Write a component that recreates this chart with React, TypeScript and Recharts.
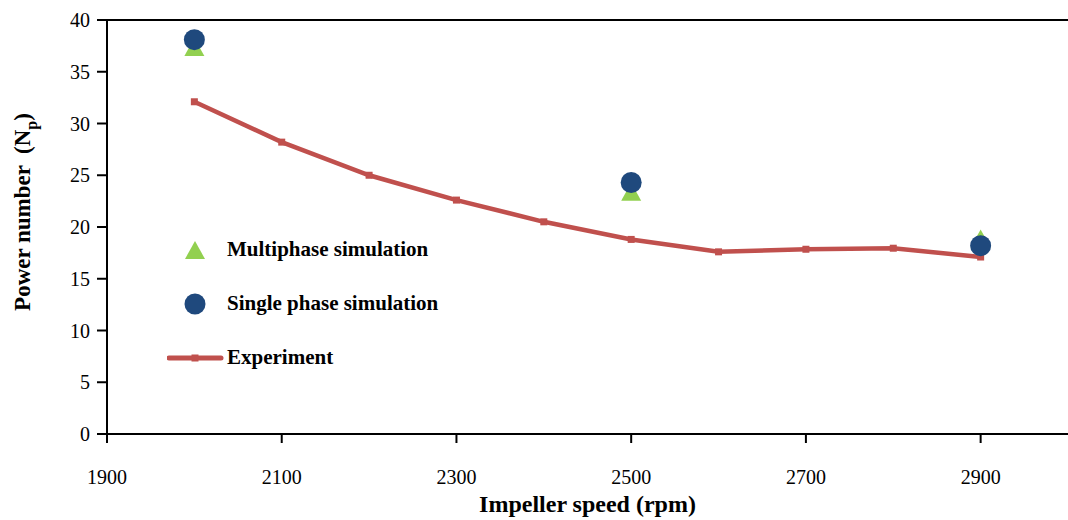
import React from 'react';
import { ComposedChart, Line, Scatter, XAxis, YAxis, ReferenceLine } from 'recharts';

const speeds = [2000, 2100, 2200, 2300, 2400, 2500, 2600, 2700, 2800, 2900];
const experiment = [32.1, 28.2, 25.0, 22.6, 20.5, 18.8, 17.6, 17.85, 17.95, 17.1];
const simSpeeds = [2000, 2500, 2900];
const multiphase = [37.4, 23.4, 18.9];
const singlePhase = [38.1, 24.3, 18.2];
const xTicks = [1900, 2100, 2300, 2500, 2700, 2900];
const yTicks = [0, 5, 10, 15, 20, 25, 30, 35, 40];
const legendLabels = ['Multiphase simulation', 'Single phase simulation', 'Experiment'];

const expData = speeds.map((x, i) => ({ x, y: experiment[i] }));
const multiData = simSpeeds.map((x, i) => ({ x, y: multiphase[i] }));
const singleData = simSpeeds.map((x, i) => ({ x, y: singlePhase[i] }));

const FONT = '"Liberation Serif", "Times New Roman", serif';
const RED = '#C0504D';
const GREEN = '#92D050';
const BLUE = '#1F497D';

const Triangle = (props: any) => {
  const { cx, cy } = props;
  if (cx == null || cy == null) return null;
  return <polygon points={`${cx},${cy - 9} ${cx + 10},${cy + 9} ${cx - 10},${cy + 9}`} fill={GREEN} />;
};
const Circle = (props: any) => {
  const { cx, cy } = props;
  if (cx == null || cy == null) return null;
  return <circle cx={cx} cy={cy} r={10.5} fill={BLUE} />;
};
const SquareDot = (props: any) => {
  const { cx, cy } = props;
  if (cx == null || cy == null) return null;
  return <rect x={cx - 3.5} y={cy - 3.5} width={7} height={7} fill={RED} />;
};

const LegendOverlay = () => {
  const textStyle: React.CSSProperties = {
    fontFamily: FONT,
    fontWeight: 'bold',
    fontSize: 21,
    lineHeight: '24px',
    color: '#000',
    whiteSpace: 'nowrap',
    position: 'absolute',
    left: 60,
  };
  return (
    <div style={{ position: 'absolute', left: 167, top: 223, width: 320, height: 160 }}>
      <svg width={70} height={160} style={{ position: 'absolute', left: 0, top: 0 }}>
        <polygon points="28,18 38,36 18,36" fill={GREEN} />
        <circle cx={28} cy={81} r={10.5} fill={BLUE} />
        <line x1={2} y1={135} x2={54} y2={135} stroke={RED} strokeWidth={5} strokeLinecap="round" />
        <rect x={24.5} y={131.5} width={7} height={7} fill={RED} />
      </svg>
      <div style={{ ...textStyle, top: 14 }}>{legendLabels[0]}</div>
      <div style={{ ...textStyle, top: 68 }}>{legendLabels[1]}</div>
      <div style={{ ...textStyle, top: 122 }}>{legendLabels[2]}</div>
    </div>
  );
};

const YLabel = (props: any) => {
  const vb = props.viewBox || { y: 20, height: 414 };
  const cy = vb.y + vb.height / 2 - 15;
  return (
    <text
      transform={`translate(30, ${cy}) rotate(-90)`}
      textAnchor="middle"
      fontFamily={FONT}
      fontWeight="bold"
      fontSize={23}
      fill="#000"
      style={{ whiteSpace: 'pre' }}
    >
      {'Power number  (N'}
      <tspan fontSize={16} dy={7}>p</tspan>
      <tspan dy={-7}>)</tspan>
    </text>
  );
};

const XLabel = (props: any) => {
  const vb = props.viewBox || { x: 107, width: 961 };
  return (
    <text
      x={vb.x + vb.width / 2}
      y={512}
      textAnchor="middle"
      fontFamily={FONT}
      fontWeight="bold"
      fontSize={24}
      fill="#000"
    >
      Impeller speed (rpm)
    </text>
  );
};

export default function App() {
  return (
    <div style={{ position: 'absolute', left: 0, top: 0, width: 1068, height: 520, background: '#fff' }}>
      <ComposedChart width={1068} height={520} margin={{ top: 20, right: 0, bottom: 0, left: 0 }}>
        <XAxis
          type="number"
          dataKey="x"
          domain={[1900, 3000]}
          ticks={xTicks}
          allowDataOverflow
          height={86}
          stroke="#000"
          strokeWidth={2}
          tickSize={9}
          tickLine={{ stroke: '#000', strokeWidth: 2 }}
          tick={{ fill: '#000', fontFamily: FONT, fontSize: 20, dy: 25 }}
          label={<XLabel />}
        />
        <YAxis
          type="number"
          domain={[0, 40]}
          ticks={yTicks}
          width={107}
          stroke="#000"
          strokeWidth={2}
          tickSize={10}
          tickLine={{ stroke: '#000', strokeWidth: 2 }}
          tick={{ fill: '#000', fontFamily: FONT, fontSize: 20, dx: -5 }}
          label={<YLabel />}
        />
        <ReferenceLine y={40} stroke="#000" strokeWidth={2} ifOverflow="extendDomain" />
        <Line
          data={expData}
          dataKey="y"
          stroke={RED}
          strokeWidth={4.5}
          dot={<SquareDot />}
          activeDot={false}
          isAnimationActive={false}
          legendType="none"
        />
        <Scatter data={multiData} dataKey="y" shape={<Triangle />} isAnimationActive={false} />
        <Scatter data={singleData} dataKey="y" shape={<Circle />} isAnimationActive={false} />
      </ComposedChart>
      <LegendOverlay />
    </div>
  );
}
